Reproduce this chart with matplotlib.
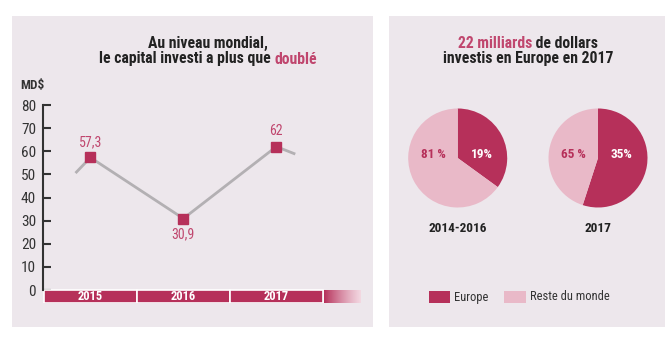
import numpy as np
import matplotlib
matplotlib.use("Agg")
import matplotlib.pyplot as plt
from matplotlib.patches import Rectangle

plt.rcParams['font.family'] = ['Roboto Condensed', 'DejaVu Sans']

# data
years = ['2015', '2016', '2017']
capital = [57.3, 30.9, 62]
capital_labels = ['57,3', '30,9', '62']
# stubs of the line before 2015 and after 2017
lead_in = (-0.15, 51)
lead_out = (2.19, 59)
yticks = [0, 10, 20, 30, 40, 50, 60, 70, 80]

pie_titles = ['2014-2016', '2017']
europe_txt = ['19%', '35%']
reste_txt = ['81 %', '65 %']
# wedge sizes as drawn in the picture
europe_drawn = [35, 55]

CRIMSON = '#b6305a'
PINK = '#e9b9c8'
BG = '#ede7ec'
DARK = '#222222'
LABEL = '#c0466e'

W, H = 670, 340
fig = plt.figure(figsize=(W / 100, H / 100), dpi=100)
fig.patch.set_facecolor('white')


def px(x0, y0, x1, y1):
    # pixel box (top-left origin) -> figure fraction
    return [x0 / W, 1 - y1 / H, (x1 - x0) / W, (y1 - y0) / H]


# panel backgrounds
for x0, x1 in [(12, 373), (389, 665)]:
    fig.patches.append(Rectangle((x0 / W, 1 - 327 / H), (x1 - x0) / W, (327 - 16) / H,
                                 transform=fig.transFigure, facecolor=BG,
                                 edgecolor='none', zorder=-5))


def two_color_line(cx, cy, parts, size=11.3):
    """draw one centered line made of several coloured pieces"""
    renderer = fig.canvas.get_renderer()
    texts = []
    for s, c in parts:
        t = fig.text(0, 1 - cy / H, s, color=c, fontsize=size, fontweight='bold',
                     va='center', ha='left')
        texts.append(t)
    widths = [t.get_window_extent(renderer).width for t in texts]
    x = cx - sum(widths) / 2
    for t, w in zip(texts, widths):
        t.set_x(x / W)
        x += w


two_color_line(208, 43, [('Au niveau mondial,', DARK)])
two_color_line(208, 59, [('le capital investi a plus que ', DARK), ('doublé', LABEL)])
two_color_line(528, 43, [('22 milliards', LABEL), (' de dollars', DARK)])
two_color_line(528, 59, [('investis en Europe en 2017', DARK)])

# line chart
ppu = 185 / 80.0
ax = fig.add_axes(px(43, 100, 360, 303))
ax.set_facecolor('none')
for s in ['top', 'right', 'bottom']:
    ax.spines[s].set_visible(False)
ax.spines['left'].set_bounds(0, 80)
ax.spines['left'].set_linewidth(1.5)
ax.spines['left'].set_color('#333333')
ax.set_yticks(yticks)
ax.tick_params(axis='y', direction='in', length=6, width=1.5, color='#333333',
               pad=5, labelsize=11, labelcolor='#333333')
ax.set_xticks([])

xs = np.arange(len(years))
line_x = [lead_in[0]] + list(xs) + [lead_out[0]]
line_y = [lead_in[1]] + capital + [lead_out[1]]
ax.plot(line_x, line_y, color='#b3b0b3', lw=2, zorder=2)
ax.plot(xs, capital, 's', color=CRIMSON, ms=7, zorder=3)
for x, v, lab in zip(xs, capital, capital_labels):
    dy = 11 if v > 45 else -11
    ax.annotate(lab, (x, v), xytext=(0, dy), textcoords='offset points',
                ha='center', va='center', color=LABEL, fontsize=10)

band = -13 / ppu
ax.bar(xs, -band, bottom=band, width=1, color=CRIMSON, edgecolor='white',
       linewidth=1.2, zorder=2)
for x, y in zip(xs, years):
    ax.text(x, band / 2, y, ha='center', va='center', color='white',
            fontsize=9, fontweight='bold', zorder=4)
grad = np.zeros((1, 100, 4))
c0 = np.array(matplotlib.colors.to_rgb(CRIMSON))
c1 = np.array(matplotlib.colors.to_rgb('#f6d3de'))
t = np.linspace(0, 1, 100)[:, None]
grad[0, :, :3] = c0 * (1 - t) + c1 * t
grad[0, :, 3] = 1 - 0.3 * t[:, 0]
ax.imshow(grad, extent=[2.5 + 0.012, 2.9, band, 0], aspect='auto', zorder=2)
ax.set_xlim(-0.51, 2.9)
ax.set_ylim(-13 / ppu, 190 / ppu)
fig.text(20 / W, 1 - 85 / H, 'MD$', fontsize=9.5, fontweight='bold', color='#333333',
         va='center', ha='left')

# pies
for i, (cx, cy) in enumerate([(457.7, 158), (598, 158)]):
    r = 49.5
    pax = fig.add_axes(px(cx - r, cy - r, cx + r, cy + r))
    pax.pie([europe_drawn[i], 100 - europe_drawn[i]], colors=[CRIMSON, PINK],
            startangle=90, counterclock=False, radius=1)
    pax.set_xlim(-1, 1)
    pax.set_ylim(-1, 1)
    pax.set_aspect('equal')
    pax.text(0.48, 0.08, europe_txt[i], ha='center', va='center', color='white',
             fontsize=9.5, fontweight='bold')
    pax.text(-0.5, 0.08, reste_txt[i], ha='center', va='center', color=CRIMSON,
             fontsize=9.5, fontweight='bold')
    fig.text(cx / W, 1 - 228 / H, pie_titles[i], ha='center', va='center',
             fontsize=9.5, fontweight='bold', color=DARK)

# legend
for (x0, x1), col, lab in [((429, 450), CRIMSON, 'Europe'),
                           ((504, 526), PINK, 'Reste du monde')]:
    fig.patches.append(Rectangle((x0 / W, 1 - 303 / H), (x1 - x0) / W, 12 / H,
                                 transform=fig.transFigure, facecolor=col,
                                 edgecolor='none', zorder=2))
    fig.text((x1 + 4) / W, 1 - 297 / H, lab, fontsize=9, color='#333333',
             va='center', ha='left')

fig.savefig('out.png', dpi=100)
